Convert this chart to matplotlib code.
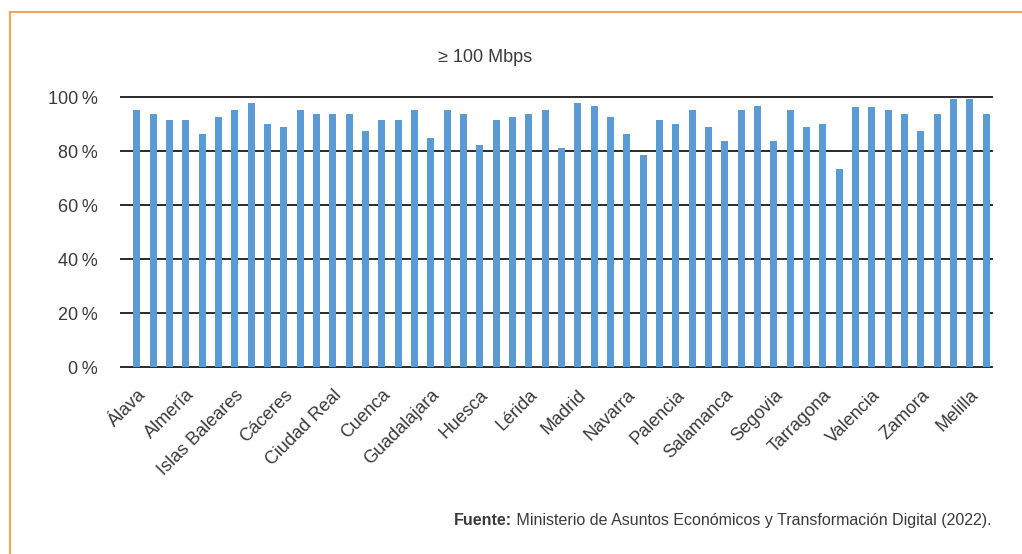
import matplotlib
matplotlib.use('Agg')
import matplotlib.pyplot as plt
from matplotlib.lines import Line2D
from matplotlib.ticker import FixedLocator, FuncFormatter

# ============================================================================
# Data (share of households with >= 100 Mbps coverage, %)
# ============================================================================
PROVINCES = [
    'Álava', 'Albacete', 'Alicante', 'Almería', 'Ávila', 'Badajoz',
    'Islas Baleares', 'Barcelona', 'Burgos', 'Cáceres', 'Cádiz', 'Castellón',
    'Ciudad Real', 'Córdoba', 'La Coruña', 'Cuenca', 'Gerona', 'Granada',
    'Guadalajara', 'Guipúzcoa', 'Huelva', 'Huesca', 'Jaén', 'León',
    'Lérida', 'La Rioja', 'Lugo', 'Madrid', 'Málaga', 'Murcia',
    'Navarra', 'Orense', 'Asturias', 'Palencia', 'Las Palmas', 'Pontevedra',
    'Salamanca', 'Santa Cruz de Tenerife', 'Cantabria', 'Segovia', 'Sevilla', 'Soria',
    'Tarragona', 'Teruel', 'Toledo', 'Valencia', 'Valladolid', 'Vizcaya',
    'Zamora', 'Zaragoza', 'Ceuta', 'Melilla', 'España',
]
COVERAGE = [
    95.1, 93.8, 91.4, 91.4, 86.2, 92.5,
    95.1, 97.7, 89.9, 88.8, 95.1, 93.8,
    93.8, 93.8, 87.3, 91.4, 91.4, 95.1,
    84.7, 95.1, 93.8, 82.1, 91.4, 92.5,
    93.8, 95.1, 81.0, 97.7, 96.5, 92.5,
    86.2, 78.4, 91.4, 89.9, 95.1, 88.8,
    83.6, 95.1, 96.5, 83.6, 95.1, 88.8,
    89.9, 73.2, 96.2, 96.2, 95.1, 93.8,
    87.3, 93.8, 99.1, 99.1, 93.8,
]
Y_TICKS = [0, 20, 40, 60, 80, 100]

TITLE = '≥ 100 Mbps'
SOURCE_BOLD = 'Fuente:'
SOURCE_TEXT = ' Ministerio de Asuntos Económicos y Transformación Digital (2022).'

# Style
BAR_COLOR = '#5B9BD5'
GRID_COLOR = '#2b2b2b'
TEXT_COLOR = '#3a3a3a'
FRAME_COLOR = '#F7A15C'
FONT = ['Liberation Sans', 'DejaVu Sans']

plt.rcParams['font.family'] = FONT

W, H = 1022, 554
fig = plt.figure(figsize=(W / 100, H / 100), dpi=100)
ax = fig.add_axes([121 / W, (H - 367) / H, 871 / W, 270 / H])

x = list(range(len(PROVINCES)))
ax.bar(x, COVERAGE, width=0.43, color=BAR_COLOR, zorder=2)

ax.set_xlim(-0.96, len(PROVINCES) - 0.65)
ax.set_ylim(0, 100)
ax.yaxis.set_major_locator(FixedLocator(Y_TICKS))
ax.yaxis.set_major_formatter(FuncFormatter(lambda v, p: f'{v:.0f}\u2009%'))
ax.grid(axis='y', color=GRID_COLOR, linewidth=1.4, zorder=1)
for gl in ax.get_ygridlines():
    gl.set_clip_on(False)
ax.set_axisbelow(True)
for s in ax.spines.values():
    s.set_visible(False)

# every third province is labelled
ax.set_xticks(x[::3])
ax.set_xticklabels(PROVINCES[::3], rotation=45, ha='right',
                   rotation_mode='anchor', fontsize=13, color=TEXT_COLOR)
ax.tick_params(axis='x', length=0, pad=14)
ax.tick_params(axis='y', length=0, pad=17, labelsize=13, labelcolor=TEXT_COLOR)

fig.text(485 / W, 1 - 58 / H, TITLE, ha='center', va='center',
         fontsize=13, color=TEXT_COLOR)

# source line: bold prefix + regular text, right aligned, shared baseline
SRC_Y = 1 - 525 / H
src = fig.text(992 / W, SRC_Y, SOURCE_TEXT, ha='right', va='baseline',
               fontsize=11.5, color=TEXT_COLOR)
fig.canvas.draw()
bb = src.get_window_extent()
fig.text(bb.x0 / W, SRC_Y, SOURCE_BOLD, ha='right', va='baseline',
         fontsize=11.5, fontweight='bold', color=TEXT_COLOR)

# orange frame (top and left edges)
fig.add_artist(Line2D([10 / W, 1], [1 - 12 / H, 1 - 12 / H],
                      transform=fig.transFigure, color=FRAME_COLOR, lw=1.5))
fig.add_artist(Line2D([10 / W, 10 / W], [0, 1 - 12 / H],
                      transform=fig.transFigure, color=FRAME_COLOR, lw=1.5))

fig.savefig('out.png', dpi=100)
